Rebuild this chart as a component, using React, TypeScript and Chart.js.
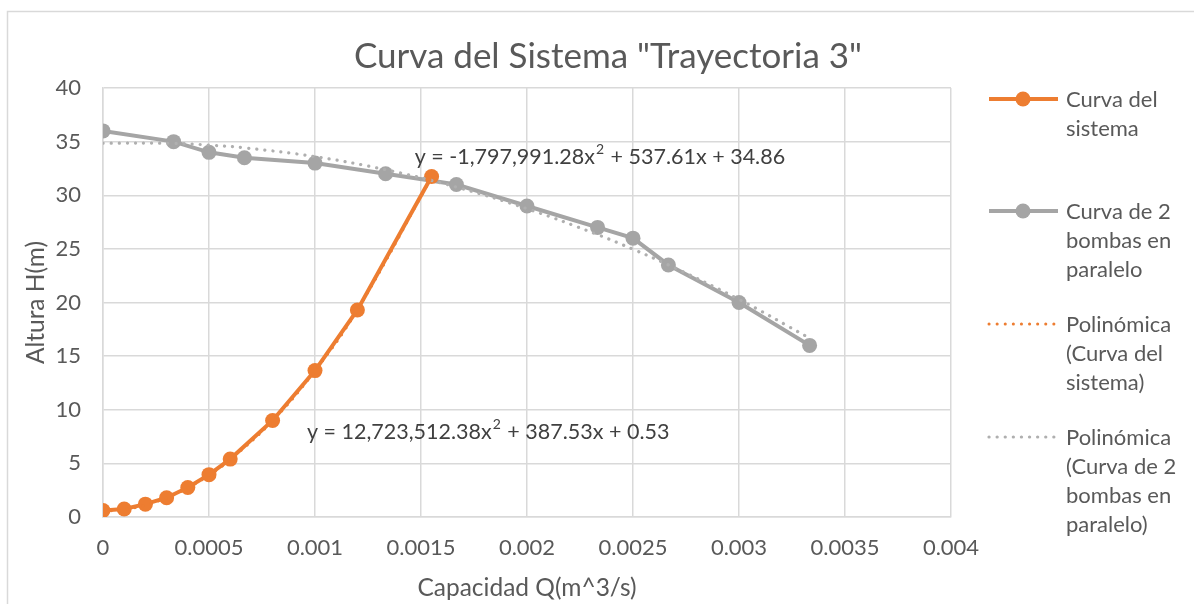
import React, { useEffect, useRef } from 'react';
import { Chart, registerables } from 'chart.js';

Chart.register(...registerables);

// ---- data ----
const sistemaQ = [0, 0.0001, 0.0002, 0.0003, 0.0004, 0.0005, 0.0006, 0.0008, 0.001, 0.0012, 0.00155];
const sistemaH = [0.6, 0.75, 1.2, 1.8, 2.75, 3.95, 5.4, 9.0, 13.65, 19.3, 31.75];
const bombasQ = [0, 0.000333, 0.0005, 0.000667, 0.001, 0.001333, 0.001667, 0.002, 0.002333, 0.0025, 0.002667, 0.003, 0.003333];
const bombasH = [36, 35, 34, 33.5, 33, 32, 31, 29, 27, 26, 23.5, 20, 16];
// polynomial trendline coefficients printed on the chart (a, b, c of a·x² + b·x + c)
const sistemaCoef = [12723512.38, 387.53, 0.53];
const bombasCoef = [-1797991.28, 537.61, 34.86];
const xTickLabels = ['0', '0.0005', '0.001', '0.0015', '0.002', '0.0025', '0.003', '0.0035', '0.004'];
const yTickLabels = ['0', '5', '10', '15', '20', '25', '30', '35', '40'];
const seriesNames = [
  'Curva del sistema',
  'Curva de 2 bombas en paralelo',
  'Polinómica (Curva del sistema)',
  'Polinómica (Curva de 2 bombas en paralelo)',
];
const legendLines = [
  ['Curva del', 'sistema'],
  ['Curva de 2', 'bombas en', 'paralelo'],
  ['Polinómica', '(Curva del', 'sistema)'],
  ['Polinómica', '(Curva de 2', 'bombas en', 'paralelo)'],
];
const chartTitle = 'Curva del Sistema "Trayectoria 3"';
const xAxisTitle = 'Capacidad Q(m^3/s)';
const yAxisTitle = 'Altura H(m)';
const eqSistema = 'y = 12,723,512.38x² + 387.53x + 0.53';
const eqBombas = 'y = -1,797,991.28x² + 537.61x + 34.86';

const ORANGE = '#ED7D31';
const GRAY = '#A5A5A5';
const TEXT = '#595959';
const GRID = '#D9D9D9';
const FONT = 'Lato, "Open Sans", sans-serif';

const poly = (c: number[], x: number) => c[0] * x * x + c[1] * x + c[2];

// draw an equation, rendering "²" as a raised small "2"
function drawEquation(ctx: CanvasRenderingContext2D, text: string, x: number, y: number) {
  const [before, after] = text.split('²');
  ctx.font = `21.5px ${FONT}`;
  ctx.fillText(before, x, y);
  let cx = x + ctx.measureText(before).width + 1;
  ctx.font = `14px ${FONT}`;
  ctx.fillText('2', cx, y - 7);
  cx += ctx.measureText('2').width + 1;
  ctx.font = `21.5px ${FONT}`;
  ctx.fillText(after, cx, y);
}

const decorPlugin = {
  id: 'decor',
  beforeDraw(chart: any) {
    const ctx = chart.ctx;
    ctx.save();
    ctx.fillStyle = '#ffffff';
    ctx.fillRect(0, 0, chart.width, chart.height);
    ctx.strokeStyle = GRID;
    ctx.lineWidth = 1.5;
    ctx.beginPath();
    ctx.moveTo(7.5, chart.height + 5);
    ctx.lineTo(7.5, 11.5);
    ctx.lineTo(chart.width + 5, 11.5);
    ctx.stroke();
    ctx.restore();
  },
  afterDraw(chart: any) {
    const ctx = chart.ctx;
    const xs = chart.scales.x;
    const ys = chart.scales.y;
    ctx.save();
    // title
    ctx.fillStyle = TEXT;
    ctx.font = `35px ${FONT}`;
    ctx.textAlign = 'center';
    ctx.textBaseline = 'middle';
    ctx.fillText(chartTitle, 608, 57);

    // trendline equations
    ctx.fillStyle = '#404040';
    ctx.textAlign = 'left';
    drawEquation(ctx, eqBombas, xs.getPixelForValue(0.00147), ys.getPixelForValue(33.6));
    drawEquation(ctx, eqSistema, xs.getPixelForValue(0.000962), ys.getPixelForValue(7.95));

    // legend
    const starts = [100, 212, 325, 438];
    const lh = 29;
    const ds = chart.data.datasets;
    [0, 1, 2, 3].forEach((i) => {
      const d = ds[i];
      const y0 = starts[i];
      ctx.save();
      ctx.strokeStyle = d.borderColor;
      ctx.lineWidth = d.borderWidth;
      ctx.lineCap = d.borderCapStyle || 'butt';
      ctx.setLineDash(d.borderDash || []);
      ctx.beginPath();
      ctx.moveTo(989, y0 - 1);
      ctx.lineTo(1058, y0 - 1);
      ctx.stroke();
      if (d.pointRadius > 0) {
        ctx.setLineDash([]);
        ctx.fillStyle = d.backgroundColor;
        ctx.beginPath();
        ctx.arc(1023, y0 - 1, d.pointRadius, 0, Math.PI * 2);
        ctx.fill();
      }
      ctx.restore();
      ctx.fillStyle = TEXT;
      ctx.font = `22px ${FONT}`;
      ctx.textAlign = 'left';
      ctx.textBaseline = 'middle';
      legendLines[i].forEach((t, k) => ctx.fillText(t, 1066, y0 + k * lh));
    });
    ctx.restore();
  },
};

export default function App() {
  const ref = useRef<HTMLCanvasElement | null>(null);
  useEffect(() => {
    if (!ref.current) return;
    const chart = new Chart(ref.current, {
      type: 'scatter',
      data: {
        datasets: [
          {
            label: seriesNames[0],
            data: sistemaQ.map((x, i) => ({ x, y: sistemaH[i] })),
            showLine: true,
            borderColor: ORANGE,
            backgroundColor: ORANGE,
            borderWidth: 4,
            pointRadius: 7.5,
            pointBorderWidth: 0,
            pointHoverRadius: 7.5,
            order: 2,
          },
          {
            label: seriesNames[1],
            data: bombasQ.map((x, i) => ({ x, y: bombasH[i] })),
            showLine: true,
            borderColor: GRAY,
            backgroundColor: GRAY,
            borderWidth: 4,
            pointRadius: 7.5,
            pointBorderWidth: 0,
            pointHoverRadius: 7.5,
            order: 2,
          },
          {
            label: seriesNames[2],
            data: sistemaQ.map((x) => ({ x, y: poly(sistemaCoef, x) })),
            showLine: true,
            borderColor: ORANGE,
            backgroundColor: ORANGE,
            borderWidth: 3,
            borderDash: [0.1, 8],
            borderCapStyle: 'round',
            pointRadius: 0,
            tension: 0.4,
            order: 1,
          },
          {
            label: seriesNames[3],
            data: bombasQ.map((x) => ({ x, y: poly(bombasCoef, x) })),
            showLine: true,
            borderColor: '#AFAFAF',
            backgroundColor: '#AFAFAF',
            borderWidth: 3.2,
            borderDash: [0.1, 8],
            borderCapStyle: 'round',
            pointRadius: 0,
            tension: 0.4,
            order: 1,
          },
        ],
      },
      options: {
        animation: false,
        responsive: false,
        devicePixelRatio: 1,
        layout: { padding: { top: 88, right: 243, bottom: 0, left: 0 } },
        plugins: {
          legend: { display: false },
          title: { display: false },
          tooltip: { enabled: false },
        },
        scales: {
          x: {
            type: 'linear',
            min: 0,
            max: 0.004,
            afterFit: (s: any) => { s.height = 87; },
            grid: { color: GRID, lineWidth: 1.5, drawTicks: false },
            border: { color: GRID, width: 1.5 },
            ticks: {
              stepSize: 0.0005,
              autoSkip: false,
              maxRotation: 0,
              padding: 18,
              color: TEXT,
              font: { family: FONT, size: 22 },
              callback: (_v: any, i: number) => xTickLabels[i],
            },
            title: {
              display: true,
              text: xAxisTitle,
              color: TEXT,
              font: { family: FONT, size: 24.5 },
              padding: { top: 0, bottom: 1 },
            },
          },
          y: {
            type: 'linear',
            min: 0,
            max: 40,
            afterFit: (s: any) => { s.width = 103; },
            grid: { color: GRID, lineWidth: 1.5, drawTicks: false },
            border: { color: GRID, width: 1.5 },
            ticks: {
              stepSize: 5,
              autoSkip: false,
              padding: 22,
              color: TEXT,
              font: { family: FONT, size: 22 },
              callback: (_v: any, i: number) => yTickLabels[i],
            },
            title: {
              display: true,
              text: yAxisTitle,
              color: TEXT,
              font: { family: FONT, size: 24.5 },
              padding: { top: 21, bottom: 0 },
            },
          },
        },
      },
      plugins: [decorPlugin],
    } as any);
    return () => chart.destroy();
  }, []);
  return (
    <div style={{ position: 'fixed', left: 0, top: 0, width: 1194, height: 604, background: '#fff' }}>
      <canvas ref={ref} width={1194} height={604} style={{ display: 'block' }} />
    </div>
  );
}
